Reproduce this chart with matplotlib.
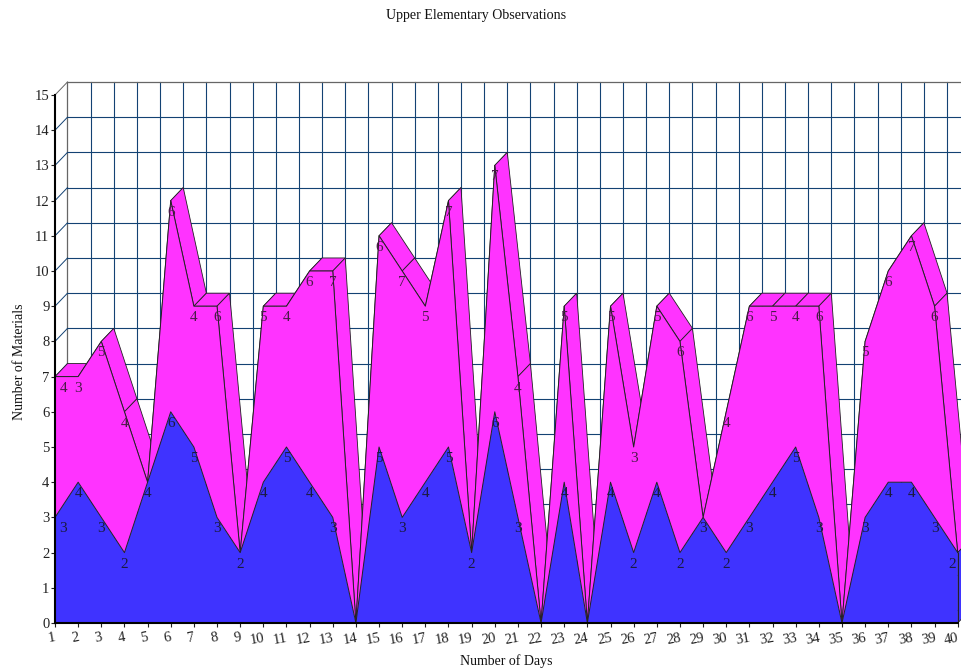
import matplotlib
matplotlib.use('Agg')
import matplotlib.pyplot as plt
import numpy as np
from matplotlib.transforms import ScaledTranslation

plt.rcParams['font.family'] = ['Liberation Serif', 'DejaVu Serif']

# values
days = list(range(1, 41))
lower_values = [3, 4, 3, 2, 4, 6, 5, 3, 2, 4, 5, 4, 3, 0, 5, 3, 4, 5, 2, 6,
                3, 0, 4, 0, 4, 2, 4, 2, 3, 2, 3, 4, 5, 3, 0, 3, 4, 4, 3, 2]
upper_values = [4, 3, 5, 4, 0, 6, 4, 6, 0, 5, 4, 6, 7, 0, 6, 7, 5, 7, 0, 7,
                4, 0, 5, 0, 5, 3, 5, 6, 0, 4, 6, 5, 4, 6, 0, 5, 6, 7, 6, 0]
y_ticks = list(range(0, 16))

PINK = '#ff33ff'
BLUE = '#3f33ff'
NAVY = '#134273'
# depth of the fake 3d, in data units (13px each way on screen)
dx = 0.54
dy = 0.37

x = np.array(days, dtype=float)
lower = np.array(lower_values, dtype=float)
total = lower + np.array(upper_values, dtype=float)

fig = plt.figure(figsize=(9.61, 6.7), dpi=100)
ax = fig.add_axes([55 / 961, 47 / 670, 902.7 / 961, 528 / 670])
ax.set_xlim(1, 40)
ax.set_ylim(0, 15)
ax.patch.set_visible(False)

# back wall grid
for d in days[1:]:
    ax.plot([d + dx, d + dx], [dy, 15 + dy], color=NAVY, lw=0.8, zorder=1, clip_on=False)
ax.plot([1 + dx, 1 + dx], [dy, 15 + dy], color='#666666', lw=0.9, zorder=1, clip_on=False)
for v in y_ticks[:-1]:
    ax.plot([1 + dx, 41], [v + dy, v + dy], color=NAVY, lw=0.8, zorder=1, clip_on=False)
    ax.plot([1, 1 + dx], [v, v + dy], color=NAVY, lw=0.7, zorder=1, clip_on=False)
ax.plot([1 + dx, 41], [15 + dy, 15 + dy], color='#666666', lw=0.9, zorder=1, clip_on=False)
ax.plot([1, 1 + dx], [15, 15 + dy], color='#666666', lw=0.7, zorder=1, clip_on=False)

# top faces of the pink band, then its front
for i in range(len(days) - 1):
    ax.fill([x[i], x[i + 1], x[i + 1] + dx, x[i] + dx],
            [total[i], total[i + 1], total[i + 1] + dy, total[i] + dy],
            facecolor=PINK, edgecolor='#222222', lw=0.6, zorder=2, clip_on=False)
ax.fill([40, 40 + dx, 40 + dx, 40], [0, dy, 2 + dy, 2],
        facecolor=BLUE, edgecolor='#222222', lw=0.6, zorder=2, clip_on=False)
ax.fill_between(x, lower, total, facecolor=PINK, edgecolor='none', zorder=3, clip_on=False)
ax.plot(x, total, color='#222222', lw=0.7, zorder=4, clip_on=False)

# blue front
ax.fill_between(x, 0, lower, facecolor=BLUE, edgecolor='none', zorder=5, clip_on=False)
ax.plot(x, lower, color='#222222', lw=0.7, zorder=6, clip_on=False)
ax.plot([40, 40], [0, 2], color='#222222', lw=0.7, zorder=6, clip_on=False)

# value labels, 11px under each point
for d, lo, up, tot in zip(days, lower_values, upper_values, total):
    shift = 6 if d == 1 else (-4 if d == 40 else 0)
    if lo > 0:
        ax.annotate(str(lo), (d, lo), xytext=(shift, -8.3), textcoords='offset points',
                    ha='center', va='center', fontsize=11, color='#1a1a40', zorder=7,
                    annotation_clip=False)
    if up > 0:
        ax.annotate(str(up), (d, tot), xytext=(shift, -8.3), textcoords='offset points',
                    ha='center', va='center', fontsize=11, color='#4a1a48', zorder=7,
                    annotation_clip=False)

ax.spines['top'].set_visible(False)
ax.spines['right'].set_visible(False)
ax.spines['left'].set_linewidth(1.5)
ax.spines['bottom'].set_linewidth(1.5)
ax.spines['left'].set_zorder(8)
ax.spines['bottom'].set_zorder(8)

ax.set_xticks(days)
ax.set_yticks(y_ticks)
ax.tick_params(axis='both', length=3, width=0.8, labelsize=10.5, colors='#222222')
ax.tick_params(axis='x', pad=3)
ax.tick_params(axis='y', pad=1)
for d, lab in zip(days, ax.get_xticklabels()):
    lab.set_rotation(10)
    shift_px = -3 if d < 10 else -6
    lab.set_transform(lab.get_transform() + ScaledTranslation(shift_px / 100, 0, fig.dpi_scale_trans))

fig.text(476 / 961, 1 - 16 / 670, 'Upper Elementary Observations', ha='center', va='center',
         fontsize=10.1, color='#111111')
fig.text(506 / 961, 1 - 661 / 670, 'Number of Days', ha='center', va='center',
         fontsize=10, color='#111111')
fig.text(20 / 961, 1 - 362 / 670, 'Number of Materials', ha='center', va='center',
         rotation=90, fontsize=10, color='#111111')

fig.savefig('out.png', dpi=100)
